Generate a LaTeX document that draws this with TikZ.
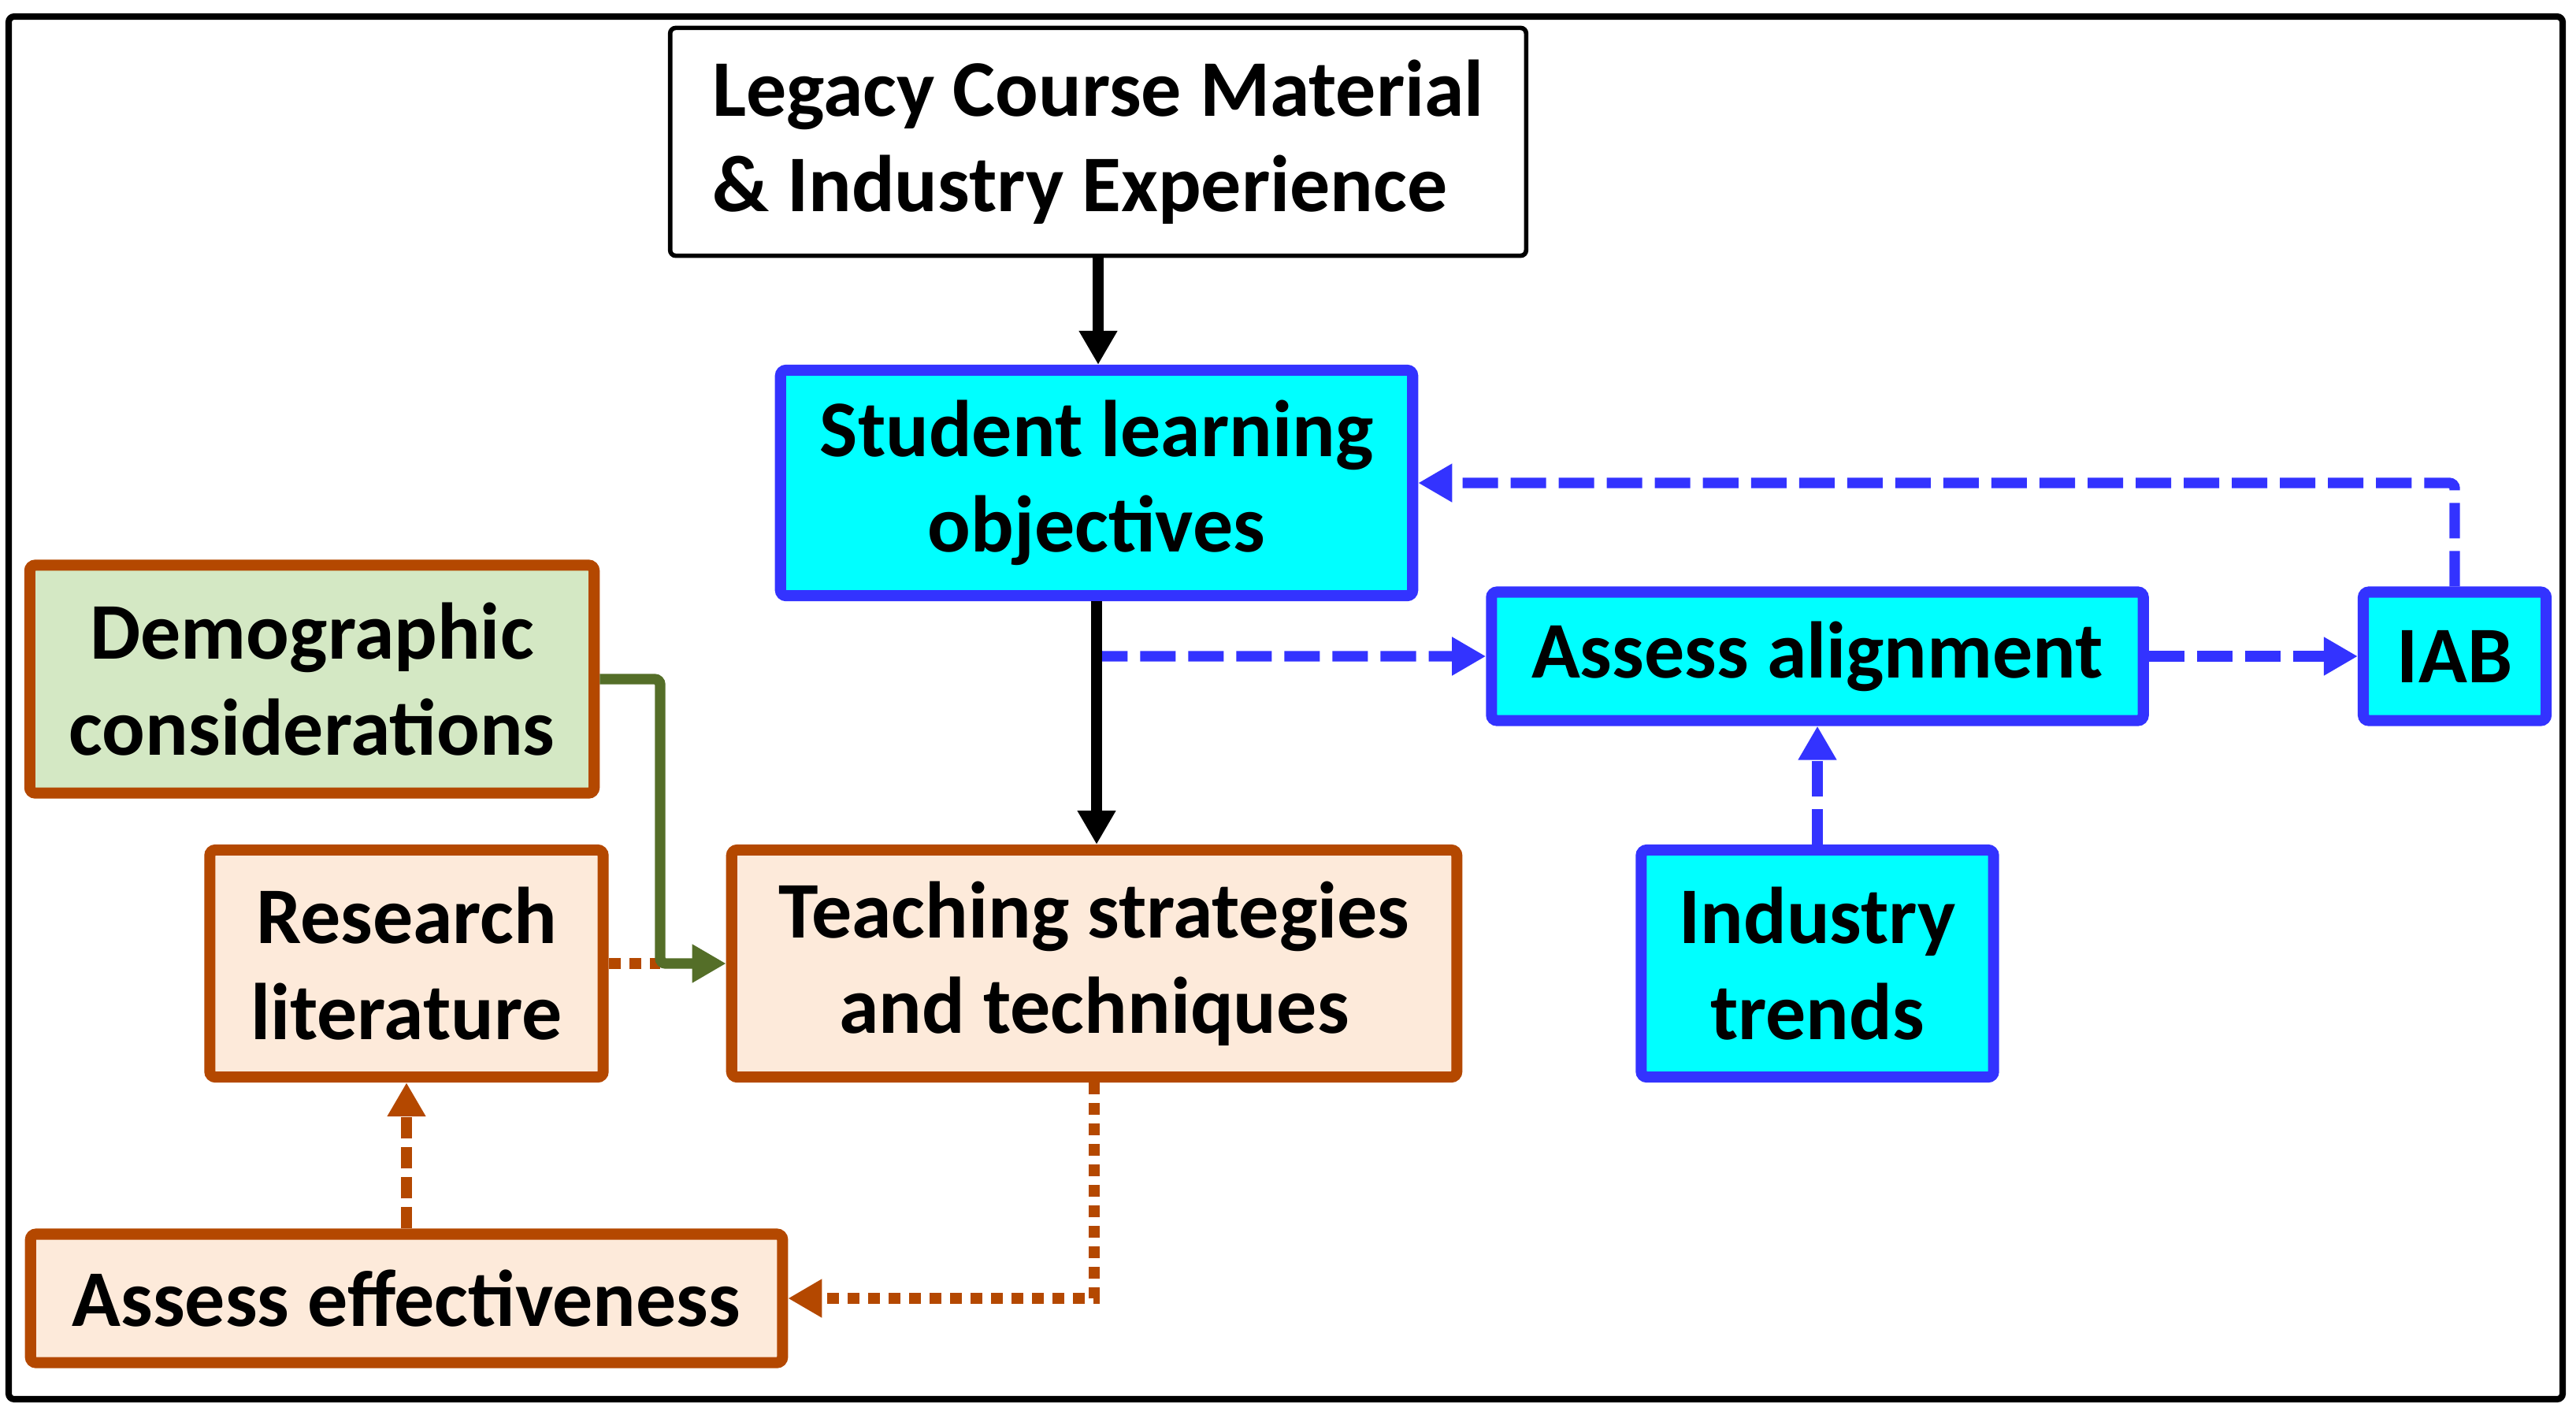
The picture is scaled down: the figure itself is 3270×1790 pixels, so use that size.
\documentclass[tikz,border=0pt]{standalone}
\usepackage{fontspec}
\setmainfont{Carlito}
\usepackage{xcolor}
\definecolor{boxcyan}{RGB}{0,255,255}
\definecolor{lineblue}{RGB}{51,51,255}
\definecolor{rustline}{RGB}{180,72,0}
\definecolor{peachfill}{RGB}{253,234,218}
\definecolor{sagefill}{RGB}{212,232,196}
\definecolor{olivearrow}{RGB}{84,110,40}
\usepackage{tikz}
\usetikzlibrary{positioning,arrows.meta,calc}

\begin{document}
\begin{tikzpicture}[x=0.01cm,y=-0.01cm,font=\fontsize{29}{34.5}\selectfont\bfseries,
    basebox/.style={rectangle,inner sep=0pt,align=center,rounded corners=2pt},
    plainbox/.style={basebox,draw=black,fill=white,line width=1.6pt},
    bluebox/.style={basebox,draw=lineblue,fill=boxcyan,line width=4pt},
    rustbox/.style={basebox,draw=rustline,fill=peachfill,line width=4pt},
    greenbox/.style={rustbox,fill=sagefill},
    headtri/.style={-{Triangle[length=0.43cm,width=0.46cm]}},
    arrblack/.style={line width=3.8pt,headtri},
    arrblue/.style={draw=lineblue,line width=3.8pt,dash pattern=on 0.45cm off 0.16cm,rounded corners=2pt},
    arrgreen/.style={draw=olivearrow,line width=3.8pt,rounded corners=2pt,headtri},
    dotrust/.style={draw=rustline,line width=3.8pt,dash pattern=on 0.15cm off 0.11cm},
    dashrust/.style={draw=rustline,line width=3.8pt,dash pattern=on 0.27cm off 0.11cm}]
  \useasboundingbox (0,0) rectangle (3270,1790);
  % marco exterior
  \draw[line width=2.3pt,rounded corners=2pt] (11,21) rectangle (3253,1776);
  % cajas
  \node[plainbox,align=left,minimum width=10.86cm,minimum height=2.89cm] (legacy) at (1394,180)
    {Legacy Course Material\\\& Industry Experience};
  \node[bluebox,minimum width=8.02cm,minimum height=2.86cm] (slo) at (1392,613)
    {Student learning\\objectives};
  \node[greenbox,minimum width=7.16cm,minimum height=2.89cm] (demo) at (396,862)
    {Demographic\\considerations};
  \node[rustbox,minimum width=4.99cm,minimum height=2.88cm] (research) at (516,1223)
    {Research\\literature};
  \node[rustbox,minimum width=9.20cm,minimum height=2.88cm] (teach) at (1389,1223)
    {Teaching strategies\\and techniques};
  \node[bluebox,minimum width=8.27cm,minimum height=1.63cm] (align) at (2307,833) {Assess alignment};
  \node[bluebox,minimum width=2.32cm,minimum height=1.63cm] (iab) at (3116,833) {IAB};
  \node[bluebox,minimum width=4.47cm,minimum height=2.88cm] (trends) at (2307,1223)
    {Industry\\trends};
  \node[rustbox,minimum width=9.54cm,minimum height=1.63cm] (effect) at (516,1648) {Assess effectiveness};
  \coordinate (join) at (838,1223);
  % flechas
  \draw[arrblack] (legacy.south) -- (legacy.south |- slo.north);
  \draw[arrblue,headtri] (slo.south) |- (align.west);
  \draw[arrblack] (slo.south) -- (slo.south |- teach.north);
  \draw[arrblue,headtri] (align.east) -- (iab.west);
  \draw[arrblue,headtri] (iab.north) |- (slo.east);
  \draw[arrblue,headtri] (trends.north) -- (align.south);
  \draw[dotrust] (research.east) -- (join);
  \draw[arrgreen] (demo.east) -| (join) -- (teach.west);
  \draw[dotrust,headtri] (teach.south) |- (effect.east);
  \draw[dashrust,headtri] (effect.north) -- (research.south);
\end{tikzpicture}
\end{document}
